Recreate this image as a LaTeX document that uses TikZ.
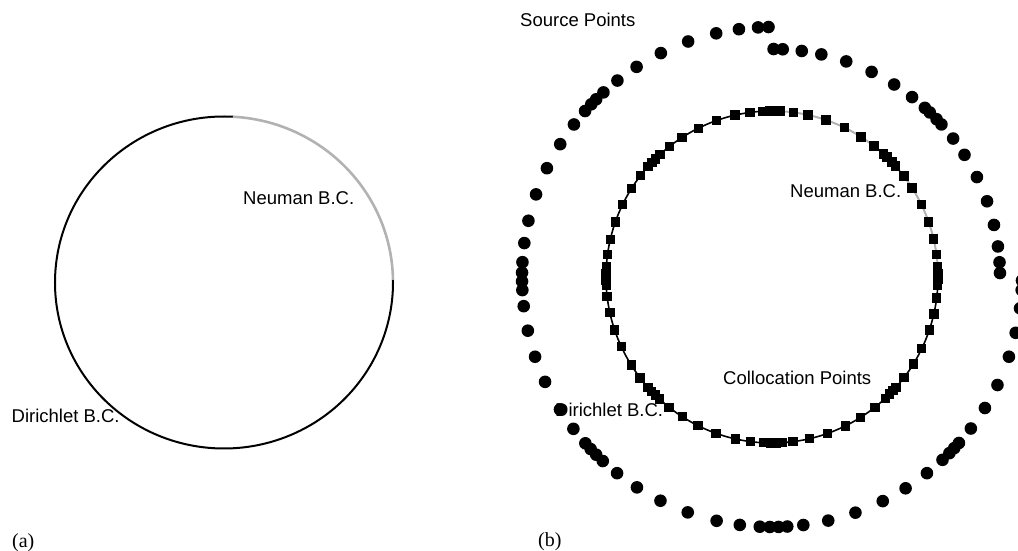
\documentclass[tikz,border=0pt]{standalone}
\usepackage{fontspec}
\setmainfont{Liberation Serif}
\newfontfamily\labelsans{Liberation Sans}
\begin{document}
\begin{tikzpicture}[x=1pt,y=-1pt,
  lbl/.style={font=\labelsans\fontsize{18.5}{22}\selectfont, inner sep=0pt, anchor=base west},
  tag/.style={font=\fontsize{20}{24}\selectfont, inner sep=0pt, anchor=base west},
  dirline/.style={line width=2pt, black},
  dirlineb/.style={line width=1.6pt, black},
  neuline/.style={line width=2.6pt, gray!60},
  neulineb/.style={line width=2pt, gray!60},
  srcdot/.style={fill=black},
  colsq/.style={fill=black}]
\useasboundingbox (0,0) rectangle (1018,551);
\clip (0,0) rectangle (1018,551);
% ---------------- (a) ----------------
\begin{scope}[shift={(224,282.5)}]
  \draw[dirline] (-87:169 and 166) arc[start angle=-87, end angle=-361, x radius=169, y radius=166];
  \draw[neuline] (-1:169 and 166) arc[start angle=-1, end angle=-87, x radius=169, y radius=166];
\end{scope}
\node[lbl] (neuA) at (243,204) {Neuman B.C.};
\node[lbl] (dirA) at (11.5,422.5) {Dirichlet B.C.};
\node[tag] (tagA) at (12,547) {(a)};
% ---------------- (b) ----------------
\begin{scope}[shift={(772,277)}]
  \draw[dirlineb] (-86:166) arc[start angle=-86, end angle=-364, radius=166];
  \draw[neulineb] (-4:166) arc[start angle=-4, end angle=-86, radius=166];
  % source points, Neumann quadrant (closer)
  \foreach \a in {1,3.7,7.7,13.2,19.4,26,32.4,37.4,42,43.8,46.2,47.9,52.1,57.6,64.1,71,77.5,82.5,87.3,89.6}
    \fill[srcdot] ({-\a}:228) circle[radius=6.3pt];
  % source points, Dirichlet part
  \foreach \a in {90.8,93.2,97.6,102.9,109.6,116.4,122.8,128.2,132.4,134.7,136.3,138.4,142.4,147.9,154.2,160.7,167,172.2,176.6,179,
                  181,183,186.7,192.4,198.6,204.8,212,217.4,221.7,223.5,225.3,227.4,231.7,237.3,243.5,250.3,257.2,262.6,267.2,269.5,
                  271.5,273.5,277.2,283,289.5,296.3,302.3,308.3,313,315.2,316.8,318.4,322.7,328.4,334.4,341.4,347.1,352.8,357,359.2}
    \fill[srcdot] ({-\a}:250) circle[radius=6.3pt];
  % collocation points
  \foreach \a in {1,3.7,7.7,13.2,19.4,26,32.4,37.4,42,43.8,46.2,47.9,52.1,57.6,64.1,71,77.5,82.5,87.3,89.6,
                  90.8,93.2,97.6,102.9,109.6,116.4,122.8,128.2,132.4,134.7,136.3,138.4,142.4,147.9,154.2,160.7,167,172.2,176.6,179,
                  181,183,186.7,192.4,198.6,204.8,212,217.4,221.7,223.5,225.3,227.4,231.7,237.3,243.5,250.3,257.2,262.6,267.2,269.5,
                  271.5,273.5,277.2,283,289.5,296.3,302.3,308.3,313,315.2,316.8,318.4,322.7,328.4,334.4,341.4,347.1,352.8,357,359.2}
    \fill[colsq, shift={({-\a}:166)}] (-4.7,-4.7) rectangle (4.7,4.7);
\end{scope}
\node[lbl] (src) at (520,26.7) {Source Points};
\node[lbl] (neuB) at (790,197.5) {Neuman B.C.};
\node[lbl] (colB) at (723,384) {Collocation Points};
\node[lbl] (dirB) at (555,416.5) {Dirichlet B.C.};
\node[tag] (tagB) at (538,546) {(b)};
\end{tikzpicture}
\end{document}
